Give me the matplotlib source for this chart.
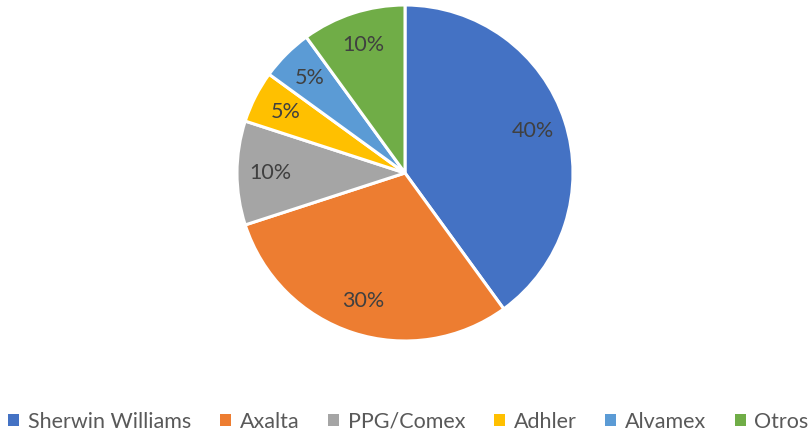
import matplotlib.pyplot as plt
from matplotlib.patches import Patch

# data
labels = ['Sherwin Williams', 'Axalta', 'PPG/Comex', 'Adhler', 'Alvamex', 'Otros']
shares = [40, 30, 10, 5, 5, 10]
colors = ['#4472C4', '#ED7D31', '#A5A5A5', '#FFC000', '#5B9BD5', '#70AD47']

plt.rcParams['font.family'] = ['Lato', 'DejaVu Sans']

fig = plt.figure(figsize=(8.09, 4.33), dpi=100)
ax = fig.add_axes([237 / 809, 92 / 433, 336 / 809, 336 / 433])

wedges, texts, autotexts = ax.pie(
    shares, colors=colors, startangle=90, counterclock=False,
    autopct='%1.0f%%', pctdistance=0.8, radius=1.0,
    wedgeprops=dict(edgecolor='white', linewidth=2.2),
    textprops=dict(color='#404040', fontsize=15.5))
ax.set_xlim(-1, 1)
ax.set_ylim(-1, 1)
ax.set_aspect('equal')

handles = [Patch(facecolor=c, edgecolor='none') for c in colors]
fig.legend(handles, labels, loc='center', bbox_to_anchor=(0.505, 11 / 433),
           ncol=6, frameon=False, fontsize=15.5, labelcolor='#595959',
           handlelength=0.5, handleheight=0.5, handletextpad=0.4,
           columnspacing=1.35)

fig.savefig('out.png', dpi=100)
